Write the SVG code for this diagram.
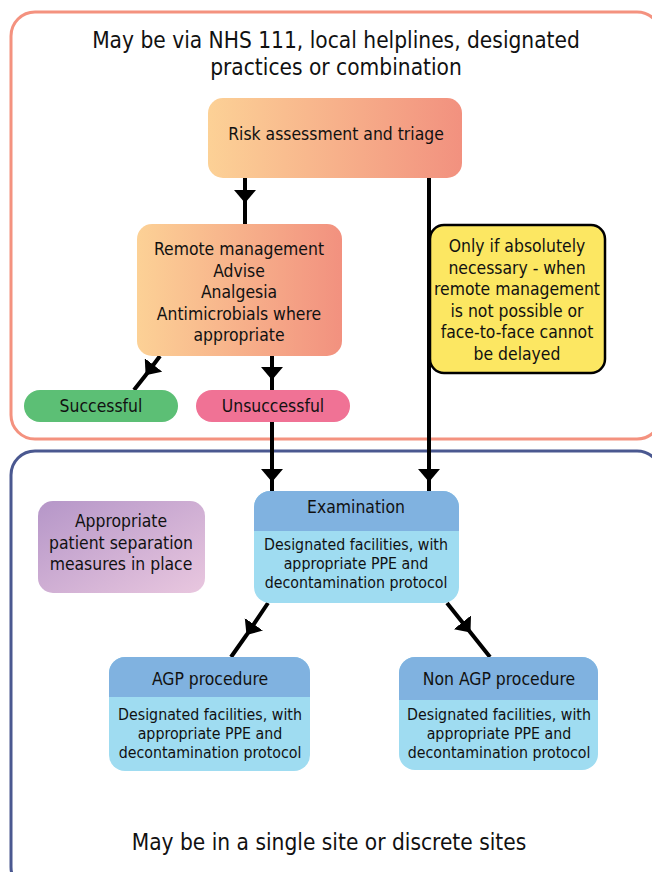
<svg xmlns="http://www.w3.org/2000/svg" width="652" height="872" viewBox="0 0 652 872">
<style>
text{font-family:"DejaVu Sans Condensed","DejaVu Sans",sans-serif;fill:#111;text-anchor:middle}
.t17{font-size:17.4px}
.t16{font-size:15.8px}
.t22{font-size:22.5px}
.con{stroke:#000;stroke-width:4;fill:none;marker-mid:url(#ah)}
.hdr{fill:#80b2e0}
.bdy{fill:#9fdcf1}
</style>
<defs>
<linearGradient id="og" x1="0" y1="0" x2="1" y2="0">
<stop offset="0" stop-color="#fcd196"/>
<stop offset="1" stop-color="#f2917f"/>
</linearGradient>
<linearGradient id="pg" x1="0" y1="0" x2="1" y2="1">
<stop offset="0" stop-color="#b596c8"/>
<stop offset="1" stop-color="#e9c7df"/>
</linearGradient>
<marker id="ah" viewBox="0 0 13 22" refX="13" refY="11" markerWidth="13" markerHeight="22" markerUnits="userSpaceOnUse" orient="auto">
<path d="M0,0 L13,11 L0,22 z" fill="#000"/>
</marker>
<clipPath id="cExam"><rect x="254" y="491" width="205" height="112" rx="16"/></clipPath>
<clipPath id="cAgp"><rect x="109" y="657" width="201" height="114" rx="16"/></clipPath>
<clipPath id="cNon"><rect x="399" y="657" width="199" height="113" rx="16"/></clipPath>
</defs>

<g id="zone-remote">
<rect x="11" y="12" width="650" height="427" rx="24" fill="none" stroke="#f4927f" stroke-width="3"/>
<text class="t22" x="336" y="48">May be via NHS 111, local helplines, designated</text>
<text class="t22" x="336" y="75">practices or combination</text>
</g>
<g id="zone-site">
<rect x="11" y="451" width="650" height="440" rx="24" fill="none" stroke="#4a5890" stroke-width="3"/>
<text class="t22" x="329" y="850">May be in a single site or discrete sites</text>
</g>

<g id="connectors">
<path class="con" d="M245,178 L245,203 L245,224"/>
<path class="con" d="M429,178 L429,482 L429,491"/>
<path class="con" d="M272,356 L272,380 L272,390"/>
<path class="con" d="M272,421 L272,482 L272,491"/>
<path class="con" d="M160,356 L145.6,375.2 L134,390"/>
<path class="con" d="M268,603 L246.5,635 L231,657"/>
<path class="con" d="M447,603 L470.5,632.5 L490,657"/>
</g>

<g id="node-risk">
<rect x="208" y="98" width="254" height="80" rx="15" fill="url(#og)"/>
<text class="t17" x="336" y="140">Risk assessment and triage</text>
</g>
<g id="node-remote">
<rect x="137" y="224" width="205" height="132" rx="15" fill="url(#og)"/>
<text class="t17" x="239" y="255">Remote management</text>
<text class="t17" x="239" y="276.5">Advise</text>
<text class="t17" x="239" y="298">Analgesia</text>
<text class="t17" x="239" y="319.5">Antimicrobials where</text>
<text class="t17" x="239" y="341">appropriate</text>
</g>
<g id="node-only">
<rect x="430" y="225" width="175" height="148" rx="14" fill="#fce762" stroke="#000" stroke-width="2.5"/>
<text class="t17" x="517" y="252">Only if absolutely</text>
<text class="t17" x="517" y="273.5">necessary - when</text>
<text class="t17" x="517" y="295">remote management</text>
<text class="t17" x="517" y="316.5">is not possible or</text>
<text class="t17" x="517" y="338">face-to-face cannot</text>
<text class="t17" x="517" y="359.5">be delayed</text>
</g>
<g id="node-successful">
<rect x="24" y="390" width="154" height="32" rx="16" fill="#5cbf75"/>
<text class="t17" x="101" y="412">Successful</text>
</g>
<g id="node-unsuccessful">
<rect x="196" y="390" width="154" height="32" rx="16" fill="#f07295"/>
<text class="t17" x="273" y="412">Unsuccessful</text>
</g>
<g id="node-separation">
<rect x="38" y="501" width="167" height="92" rx="15" fill="url(#pg)"/>
<text class="t17" x="121" y="527">Appropriate</text>
<text class="t17" x="121" y="549">patient separation</text>
<text class="t17" x="121" y="570">measures in place</text>
</g>
<g id="node-exam">
<g clip-path="url(#cExam)">
<rect class="bdy" x="254" y="491" width="205" height="112"/>
<rect class="hdr" x="254" y="491" width="205" height="40"/>
</g>
<text class="t17" x="356" y="513">Examination</text>
<text class="t16" x="356" y="550">Designated facilities, with</text>
<text class="t16" x="356" y="569">appropriate PPE and</text>
<text class="t16" x="356" y="588">decontamination protocol</text>
</g>
<g id="node-agp">
<g clip-path="url(#cAgp)">
<rect class="bdy" x="109" y="657" width="201" height="114"/>
<rect class="hdr" x="109" y="657" width="201" height="40"/>
</g>
<text class="t17" x="210" y="685">AGP procedure</text>
<text class="t16" x="210" y="720">Designated facilities, with</text>
<text class="t16" x="210" y="739">appropriate PPE and</text>
<text class="t16" x="210" y="758">decontamination protocol</text>
</g>
<g id="node-nonagp">
<g clip-path="url(#cNon)">
<rect class="bdy" x="399" y="657" width="199" height="113"/>
<rect class="hdr" x="399" y="657" width="199" height="43"/>
</g>
<text class="t17" x="499" y="685">Non AGP procedure</text>
<text class="t16" x="499" y="720">Designated facilities, with</text>
<text class="t16" x="499" y="739">appropriate PPE and</text>
<text class="t16" x="499" y="758">decontamination protocol</text>
</g>
</svg>
